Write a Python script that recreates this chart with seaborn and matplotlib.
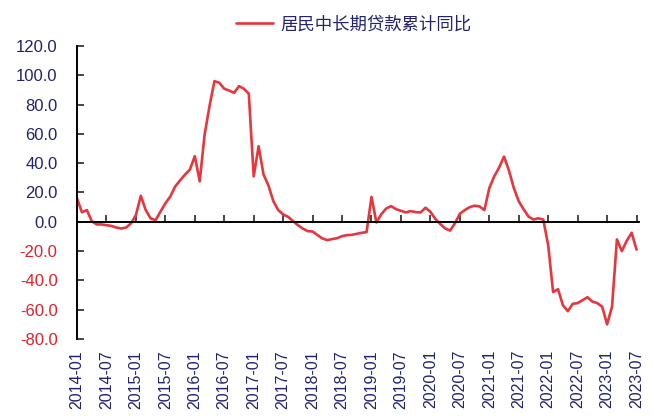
import numpy as np
import pandas as pd
import matplotlib
matplotlib.use("Agg")
import matplotlib.pyplot as plt
import seaborn as sns
from matplotlib.ticker import FuncFormatter

# Monthly series, 2014-01 .. 2023-07
months = pd.period_range("2014-01", "2023-07", freq="M").strftime("%Y-%m").tolist()
series_name = "居民中长期贷款累计同比"
values = [
    16.0, 6.5, 8.0, 0.5, -1.8, -1.8, -2.3, -2.8, -3.9, -4.6, -3.9, -1.1,      # 2014
    4.6, 17.7, 8.0, 2.3, 1.1, 6.9, 12.6, 17.2, 24.1, 28.3, 32.2, 35.6,        # 2015
    44.8, 27.6, 59.6, 79.0, 96.0, 94.9, 90.8, 89.6, 88.0, 92.6, 90.8, 87.4,   # 2016
    31.0, 51.6, 32.3, 24.8, 14.1, 8.0, 5.0, 3.4, 0.5, -2.3, -4.6, -6.4,       # 2017
    -6.6, -9.1, -11.4, -12.5, -11.8, -11.2, -9.8, -9.1, -8.9, -8.2, -7.5, -7.0,  # 2018
    17.0, -0.5, 5.2, 9.1, 10.7, 8.6, 7.5, 6.4, 7.3, 6.6, 6.4, 9.6,            # 2019
    6.8, 2.0, -1.5, -4.5, -6.0, -1.0, 5.5, 8.0, 10.0, 11.0, 10.5, 8.0,        # 2020
    23.0, 31.0, 37.0, 44.5, 35.0, 23.0, 14.0, 8.5, 3.5, 1.5, 2.4, 1.5,        # 2021
    -16.0, -48.0, -46.0, -57.0, -61.0, -56.0, -55.5, -53.5, -51.5, -54.5, -55.5, -58.0,  # 2022
    -70.0, -58.0, -12.0, -20.0, -13.0, -7.5, -19.0,                           # 2023
]
tick_step = 6
tick_labels = months[::tick_step]
y_ticks = list(range(-80, 121, 20))

LINE = "#E6363E"
NAVY = "#22226E"
RED = "#E0202A"

sns.set_style("white")
plt.rcParams["font.family"] = ["Liberation Sans", "Noto Sans CJK SC", "DejaVu Sans"]

fig = plt.figure(figsize=(6.54, 4.18), dpi=100)
ax = fig.add_axes([77 / 654, 1 - 339 / 418, (639 - 77) / 654, (339 - 46) / 418])

df = pd.DataFrame({"idx": np.arange(len(values)), "value": values})
sns.lineplot(data=df, x="idx", y="value", ax=ax, color=LINE, linewidth=1.9,
             label=series_name)

ax.set_xlim(0, len(values) - 0.5)
ax.set_ylim(y_ticks[0], y_ticks[-1])
ax.set_xlabel("")
ax.set_ylabel("")

# Left axis: inward ticks, one-decimal labels, negatives in red
ax.set_yticks(y_ticks)
ax.yaxis.set_major_formatter(FuncFormatter(lambda v, p: f"{v:.1f}"))
ax.tick_params(axis="y", direction="in", length=5, width=1.2, pad=14,
               labelsize=12, left=True)
for t, v in zip(ax.yaxis.get_major_ticks(), y_ticks):
    t.label1.set_color(RED if v < 0 else NAVY)

# Horizontal axis line through zero with upward ticks
ax.spines["bottom"].set_position(("data", 0))
for s in ("top", "right"):
    ax.spines[s].set_visible(False)
for s in ("left", "bottom"):
    ax.spines[s].set_color("black")
    ax.spines[s].set_linewidth(1.4)
ax.set_xticks(np.arange(0, len(values), tick_step))
ax.tick_params(axis="x", direction="in", length=5, width=1.2, labelbottom=False,
               bottom=True)

# Date labels along the bottom edge of the plot area
sec = ax.secondary_xaxis("bottom")
sec.set_xticks(np.arange(0, len(values), tick_step), labels=tick_labels, rotation=90)
sec.tick_params(length=0, pad=8, labelsize=11.5, labelcolor=NAVY)
sec.spines["bottom"].set_visible(False)

ax.legend(loc="center", bbox_to_anchor=(0.541, 0.943), bbox_transform=fig.transFigure,
          frameon=False, handlelength=2.1, handletextpad=0.45, fontsize=12.5,
          labelcolor=NAVY)

fig.savefig("out.png", dpi=100)
